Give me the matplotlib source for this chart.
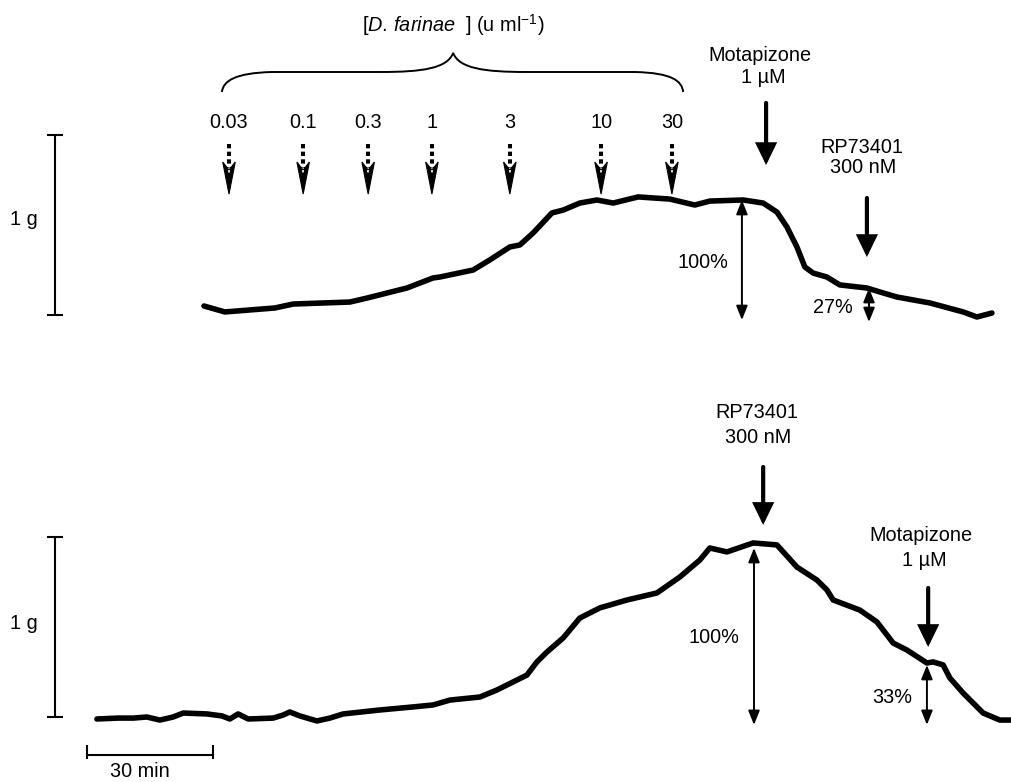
import matplotlib
matplotlib.use('Agg')
import matplotlib.pyplot as plt
from matplotlib.patches import FancyArrowPatch, Polygon, PathPatch, ArrowStyle
from matplotlib.path import Path

plt.rcParams['font.family'] = ['Liberation Sans', 'DejaVu Sans']
plt.rcParams['mathtext.fontset'] = 'custom'
plt.rcParams['mathtext.rm'] = 'Liberation Sans'
plt.rcParams['mathtext.it'] = 'Liberation Sans:italic'

# ---------------- data (time in min, tension in g) ----------------
upper_time = [27.6, 32.6, 38.6, 44.6, 49.0, 62.6, 66.7, 76.3, 82.6, 84.2, 92.2,
              96.2, 101.0, 103.4, 106.6, 111.1, 113.8, 117.8, 121.9, 125.8,
              131.8, 139.4, 145.4, 149.0, 157.0, 161.8, 165.1, 167.5, 169.9,
              171.8, 173.8, 177.1, 180.2, 186.7, 189.8, 193.9, 201.8, 209.8,
              213.1, 216.7]
upper_tension = [0.050, 0.017, 0.028, 0.039, 0.061, 0.072, 0.094, 0.150, 0.206,
                 0.211, 0.250, 0.306, 0.378, 0.389, 0.456, 0.567, 0.583, 0.622,
                 0.639, 0.622, 0.656, 0.644, 0.611, 0.633, 0.639, 0.622, 0.572,
                 0.489, 0.378, 0.267, 0.233, 0.211, 0.167, 0.150, 0.128, 0.100,
                 0.067, 0.017, -0.011, 0.011]

lower_time = [1.9, 7.0, 10.6, 13.9, 17.0, 20.2, 22.6, 28.3, 31.9, 33.8, 35.8,
              38.2, 44.2, 46.6, 48.2, 50.6, 54.7, 57.8, 61.0, 69.8, 77.8, 82.6,
              86.6, 93.8, 97.9, 105.1, 107.5, 109.9, 113.8, 117.8, 122.6, 129.1,
              136.3, 141.8, 146.6, 149.0, 153.1, 159.4, 165.1, 169.9, 174.7,
              177.1, 178.6, 185.0, 189.1, 193.0, 196.3, 201.1, 202.6, 205.0,
              206.6, 209.8, 214.6, 218.6, 221.5]
lower_tension = [-0.011, -0.006, -0.006, 0.000, -0.017, 0.000, 0.022, 0.017,
                 0.006, -0.011, 0.017, -0.011, -0.006, 0.011, 0.028, 0.006,
                 -0.022, -0.006, 0.017, 0.039, 0.056, 0.067, 0.094, 0.111, 0.150,
                 0.233, 0.306, 0.361, 0.439, 0.550, 0.606, 0.650, 0.689, 0.778,
                 0.872, 0.939, 0.917, 0.967, 0.956, 0.833, 0.761, 0.706, 0.650,
                 0.594, 0.528, 0.411, 0.372, 0.300, 0.306, 0.289, 0.217, 0.133,
                 0.022, -0.017, -0.017]

conc_labels = ['0.03', '0.1', '0.3', '1', '3', '10', '30']
conc_times = [33.6, 51.4, 67.0, 82.3, 101.0, 122.9, 139.9]

# drug additions (time, min)
upper_motapizone_t = 162.5
upper_rp_t = 186.7
lower_rp_t = 161.8
lower_motapizone_t = 201.4

# ---------------- figure ----------------
FS = 14.3
fig = plt.figure(figsize=(10.12, 7.82), dpi=100)
ax1 = fig.add_axes([0, 0.5, 1, 0.5])
ax2 = fig.add_axes([0, 0.0, 1, 0.5])
for ax in (ax1, ax2):
    ax.set_axis_off()
    ax.set_xlim(-21.36, 221.52)
ax1.set_ylim(-0.4222, 1.75)
ax2.set_ylim(-0.3611, 1.8111)

# traces
for ax, t, g in ((ax1, upper_time, upper_tension), (ax2, lower_time, lower_tension)):
    ax.plot(t, g, color='black', lw=4.0, solid_joinstyle='round',
            solid_capstyle='round', clip_on=False)


def g_bar(ax, t, ylab):
    kw = dict(color='black', lw=1.5, clip_on=False, solid_capstyle='butt')
    ax.plot([t, t], [0, 1], **kw)
    ax.plot([t - 2.0, t + 2.0], [0, 0], **kw)
    ax.plot([t - 2.0, t + 2.0], [1, 1], **kw)
    ax.text(-15.6, ylab, '1 g', fontsize=FS, ha='center', va='center')


g_bar(ax1, -8.2, 0.528)
g_bar(ax2, -8.2, 0.522)

# time scale bar
kw = dict(color='black', lw=1.5, clip_on=False, solid_capstyle='butt')
ax2.plot([-0.5, 29.8], [-0.211, -0.211], **kw)
ax2.plot([-0.5, -0.5], [-0.156, -0.233], **kw)
ax2.plot([29.8, 29.8], [-0.156, -0.233], **kw)
ax2.text(12.2, -0.302, '30 min', fontsize=FS, ha='center', va='center')


def solid_arrow(ax, t, g0, g1):
    st = ArrowStyle('-|>', head_length=11.5, head_width=5.6)
    p = FancyArrowPatch((t, g0), (t, g1), arrowstyle=st, mutation_scale=1,
                        lw=3.0, color='black', shrinkA=0, shrinkB=0,
                        joinstyle='miter', clip_on=False)
    ax.add_patch(p)


def double_arrow(ax, t, g0, g1):
    st = ArrowStyle('<|-|>', head_length=8.5, head_width=3.4)
    p = FancyArrowPatch((t, g0), (t, g1), arrowstyle=st, mutation_scale=1,
                        lw=1.4, color='black', shrinkA=0, shrinkB=0,
                        clip_on=False)
    ax.add_patch(p)


def dotted_arrow(ax, t):
    ax.plot([t, t], [0.95, 0.815], color='black', lw=2.9,
            ls=(0, (1.07, 0.83)), dash_capstyle='butt')
    hw = 1.5
    poly = Polygon([(t - hw, 0.850), (t, 0.805), (t + hw, 0.850), (t, 0.672)],
                   closed=True, facecolor='black', edgecolor='black', lw=0.8)
    ax.add_patch(poly)
    ax.plot([t, t], [0.835, 0.79], color='white', lw=1.2,
            ls=(0, (1.5, 1.5)), dash_capstyle='butt')


# ---------- upper panel annotations ----------
ax1.text(87.4, 1.611, r'[$\mathit{D.\,farinae}$  ] (u ml$^{\mathrm{-1}}$)',
         fontsize=FS, ha='center', va='center')

brace_verts = [(31.9, 1.239),
               (32.2, 1.30), (35.0, 1.345), (44.0, 1.350),
               (70.0, 1.350),
               (80.0, 1.350), (86.0, 1.370), (87.4, 1.456),
               (88.8, 1.370), (94.8, 1.350), (105.0, 1.350),
               (131.0, 1.350),
               (140.0, 1.345), (142.3, 1.30), (142.6, 1.239)]
brace_codes = [Path.MOVETO,
               Path.CURVE4, Path.CURVE4, Path.CURVE4,
               Path.LINETO,
               Path.CURVE4, Path.CURVE4, Path.CURVE4,
               Path.CURVE4, Path.CURVE4, Path.CURVE4,
               Path.LINETO,
               Path.CURVE4, Path.CURVE4, Path.CURVE4]
ax1.add_patch(PathPatch(Path(brace_verts, brace_codes), facecolor='none',
                        edgecolor='black', lw=1.4, clip_on=False))

for lab, t in zip(conc_labels, conc_times):
    ax1.text(t, 1.067, lab, fontsize=FS, ha='center', va='center')
    dotted_arrow(ax1, t)

ax1.text(161.0, 1.439, 'Motapizone', fontsize=FS, ha='center', va='center')
ax1.text(161.8, 1.322, '1 µM', fontsize=FS, ha='center', va='center')
solid_arrow(ax1, upper_motapizone_t, 1.178, 0.833)

ax1.text(185.5, 0.933, 'RP73401', fontsize=FS, ha='center', va='center')
ax1.text(185.8, 0.817, '300 nM', fontsize=FS, ha='center', va='center')
solid_arrow(ax1, upper_rp_t, 0.650, 0.322)

double_arrow(ax1, 156.7, -0.028, 0.639)
ax1.text(153.4, 0.294, '100%', fontsize=FS, ha='right', va='center')
double_arrow(ax1, 187.2, -0.039, 0.150)
ax1.text(183.4, 0.039, '27%', fontsize=FS, ha='right', va='center')

# ---------- lower panel annotations ----------
ax2.text(160.3, 1.689, 'RP73401', fontsize=FS, ha='center', va='center')
ax2.text(160.6, 1.550, '300 nM', fontsize=FS, ha='center', va='center')
solid_arrow(ax2, lower_rp_t, 1.389, 1.067)

double_arrow(ax2, 159.6, -0.044, 0.939)
ax2.text(156.2, 0.439, '100%', fontsize=FS, ha='right', va='center')

ax2.text(199.7, 1.011, 'Motapizone', fontsize=FS, ha='center', va='center')
ax2.text(200.4, 0.872, '1 µM', fontsize=FS, ha='center', va='center')
solid_arrow(ax2, lower_motapizone_t, 0.717, 0.389)

double_arrow(ax2, 201.1, -0.044, 0.289)
ax2.text(197.5, 0.111, '33%', fontsize=FS, ha='right', va='center')

fig.savefig('out.png', dpi=100, facecolor='white')
